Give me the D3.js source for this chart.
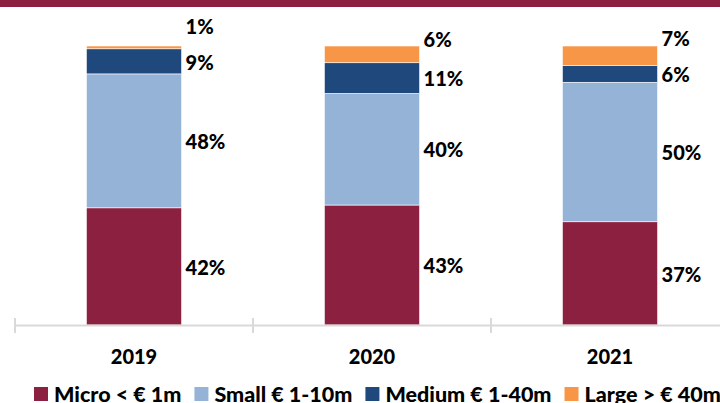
<!DOCTYPE html>
<html>

<head>
    <style>
        body { margin: 0; background: #fff; }
        svg text { font-family: Lato, "Open Sans", sans-serif; font-weight: 900; fill: #000; }
    </style>
</head>

<body>
    <svg id="container" width="720" height="403"></svg>
</body>
<script src="https://cdn.jsdelivr.net/npm/d3@7"></script>

<script>
    // data (shares in %)
    let years = ["2019", "2020", "2021"];
    let seriesNames = ["Micro < € 1m", "Small € 1-10m", "Medium € 1-40m", "Large > € 40m"];
    let micro = [42, 43, 37];
    let small = [48, 40, 50];
    let medium = [9, 11, 6];
    let large = [1, 6, 7];
    let colors = ["#8c2041", "#95b3d7", "#1f497d", "#f79646"];

    let svg = d3.select("#container");

    // maroon band at the very top
    svg.append("rect")
        .attr("x", 0).attr("y", 0)
        .attr("width", 720).attr("height", 7)
        .attr("fill", colors[0]);

    let table = years.map((y, i) => ({
        year: y,
        s0: micro[i], s1: small[i], s2: medium[i], s3: large[i]
    }));
    let keys = ["s0", "s1", "s2", "s3"];
    let stacked = d3.stack().keys(keys)(table);

    let xScale = d3.scaleBand()
        .domain(years)
        .range([15, 729])
        .paddingInner(0.6)
        .paddingOuter(0.3);
    let yScale = d3.scaleLinear()
        .domain([0, 100])
        .range([325, 46]);

    // bars
    let layers = svg.append("g")
        .selectAll("g")
        .data(stacked)
        .enter()
        .append("g")
        .attr("fill", (d, i) => colors[i]);
    layers.selectAll("rect")
        .data((d) => d)
        .enter()
        .append("rect")
            .attr("x", (d) => xScale(d.data.year))
            .attr("width", xScale.bandwidth())
            .attr("y", (d) => yScale(d[1]))
            .attr("height", (d) => yScale(d[0]) - yScale(d[1]))
            .attr("stroke", "#fff")
            .attr("stroke-width", 0.6);

    // category axis: grey line with ticks between the categories
    let axisY = 325.5;
    let step = xScale.step();
    let edges = d3.range(years.length + 1).map((i) => 15 + i * step);
    let axis = svg.append("g");
    axis.append("line")
        .attr("x1", 15).attr("x2", 729)
        .attr("y1", axisY).attr("y2", axisY)
        .attr("stroke", "#d9d9d9").attr("stroke-width", 2);
    axis.selectAll(".tick")
        .data(edges)
        .enter()
        .append("line")
            .attr("class", "tick")
            .attr("x1", (d) => d).attr("x2", (d) => d)
            .attr("y1", 318).attr("y2", 333)
            .attr("stroke", "#d9d9d9").attr("stroke-width", 2);
    axis.selectAll(".cat")
        .data(years)
        .enter()
        .append("text")
            .attr("class", "cat")
            .attr("x", (d) => xScale(d) + xScale.bandwidth() / 2)
            .attr("y", 357)
            .attr("dy", "0.36em")
            .attr("text-anchor", "middle")
            .style("font-size", "20px")
            .text((d) => d);

    // value labels to the right of each bar; the top one is pushed up to avoid overlap
    years.forEach((yr, i) => {
        let segs = stacked.map((layer) => layer[i]);
        let ys = segs.map((s) => (yScale(s[0]) + yScale(s[1])) / 2 + 1);
        let last = segs.length - 1;
        ys[last] = Math.min(ys[last] - 16, ys[last - 1] - 36);
        segs.forEach((s, k) => {
            svg.append("text")
                .attr("x", xScale(yr) + xScale.bandwidth() + 4)
                .attr("y", ys[k])
                .attr("dy", "0.36em")
                .style("font-size", "20px")
                .text((s[1] - s[0]) + "%");
        });
    });

    // legend, laid out left to right (runs past the right edge like the original)
    let legend = svg.append("g").attr("transform", "translate(34, 394)");
    let cursor = 0;
    seriesNames.forEach((name, i) => {
        legend.append("rect")
            .attr("x", cursor).attr("y", -7)
            .attr("width", 14).attr("height", 14)
            .attr("fill", colors[i]);
        let t = legend.append("text")
            .attr("x", cursor + 20)
            .attr("y", 0)
            .attr("dy", "0.36em")
            .style("font-size", "21.5px")
            .text(name);
        cursor += 20 + t.node().getComputedTextLength() + 13;
    });
</script>

</html>
